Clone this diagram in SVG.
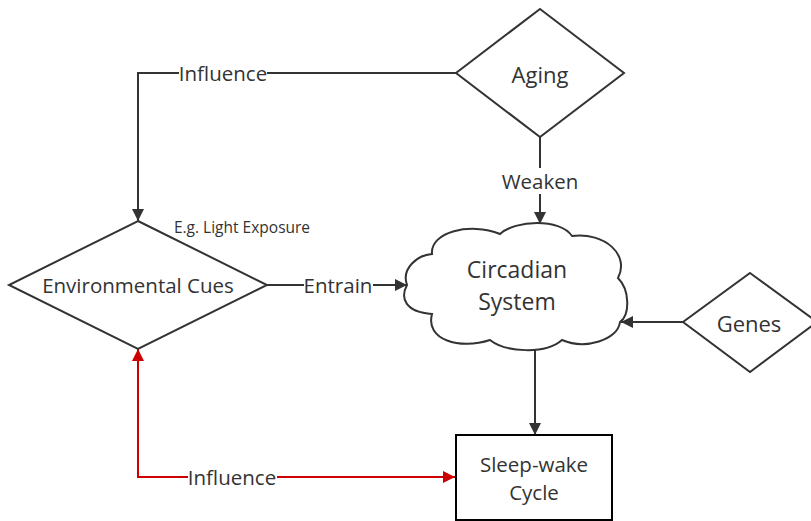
<svg xmlns="http://www.w3.org/2000/svg" width="811" height="521" viewBox="0 0 811 521">
<style>
.shape{fill:#fff;stroke:#333;stroke-width:2}
.box{fill:#fff;stroke:#000;stroke-width:2}
.line{fill:none;stroke:#333;stroke-width:2}
.red{fill:none;stroke:#cc0000;stroke-width:2}
text{font-family:"Open Sans","Noto Sans","Liberation Sans",sans-serif;fill:#333;text-anchor:middle;dominant-baseline:central}
.lbl{font-size:20.5px}
.bg{fill:#fff}
</style>
<defs>
<marker id="ah" markerUnits="userSpaceOnUse" markerWidth="14" markerHeight="12" refX="12" refY="6" orient="auto"><path d="M0,0 L12,6 L0,12 Z" fill="#333"/></marker>
<marker id="ahr" markerUnits="userSpaceOnUse" markerWidth="14" markerHeight="12" refX="12" refY="6" orient="auto"><path d="M0,0 L12,6 L0,12 Z" fill="#cc0000"/></marker>
</defs>
<g id="connectors">
<path class="line" d="M456,73 H138 V221" marker-end="url(#ah)"/>
<rect class="bg" x="179" y="62" width="88" height="22"/>
<text class="lbl" x="223" y="73">Influence</text>
<path class="line" d="M540,137 V224" marker-end="url(#ah)"/>
<rect class="bg" x="499" y="168" width="82" height="26"/>
<text class="lbl" x="540" y="181">Weaken</text>
<path class="line" d="M267,285 H407" marker-end="url(#ah)"/>
<rect class="bg" x="304" y="274" width="69" height="22"/>
<text class="lbl" x="338" y="285">Entrain</text>
<path class="line" d="M683,322 H621" marker-end="url(#ah)"/>
<path class="line" d="M535,348 V435" marker-end="url(#ah)"/>
<path class="red" d="M455,477 H138 V349" marker-end="url(#ahr)"/>
<path class="red" d="M138,477 H455" marker-end="url(#ahr)"/>
<rect class="bg" x="188" y="466" width="89" height="23"/>
<text class="lbl" x="232" y="477">Influence</text>
</g>
<g id="aging">
<path class="shape" d="M540,9 L624,73 L540,137 L456,73 Z"/>
<text x="540" y="74" font-size="22">Aging</text>
</g>
<g id="environmental-cues">
<path class="shape" d="M138,221 L267,285 L138,349 L9,285 Z"/>
<text x="138" y="285" font-size="20.5">Environmental Cues</text>
<text x="242" y="227" font-size="15.5">E.g. Light Exposure</text>
</g>
<g id="circadian-system">
<path class="shape" d="M407,285 C401,268 418,255 432,254 C430,232 470,222 500,234 C515,220 560,218 572,236 C605,232 630,255 618,278 C630,290 630,315 620,322 C618,340 585,350 562,340 C545,355 505,352 490,340 C460,350 425,340 432,314 C405,312 400,298 407,285 Z"/>
<text x="517" y="269" font-size="23">Circadian</text>
<text x="517" y="301" font-size="23">System</text>
</g>
<g id="genes">
<path class="shape" d="M750,273 L817,322 L750,372 L683,322 Z"/>
<text x="749" y="323" font-size="22">Genes</text>
</g>
<g id="sleep-wake-cycle">
<rect class="box" x="456" y="435" width="156" height="85"/>
<text x="534" y="464" font-size="20.5">Sleep-wake</text>
<text x="534" y="492" font-size="20.5">Cycle</text>
</g>
</svg>
